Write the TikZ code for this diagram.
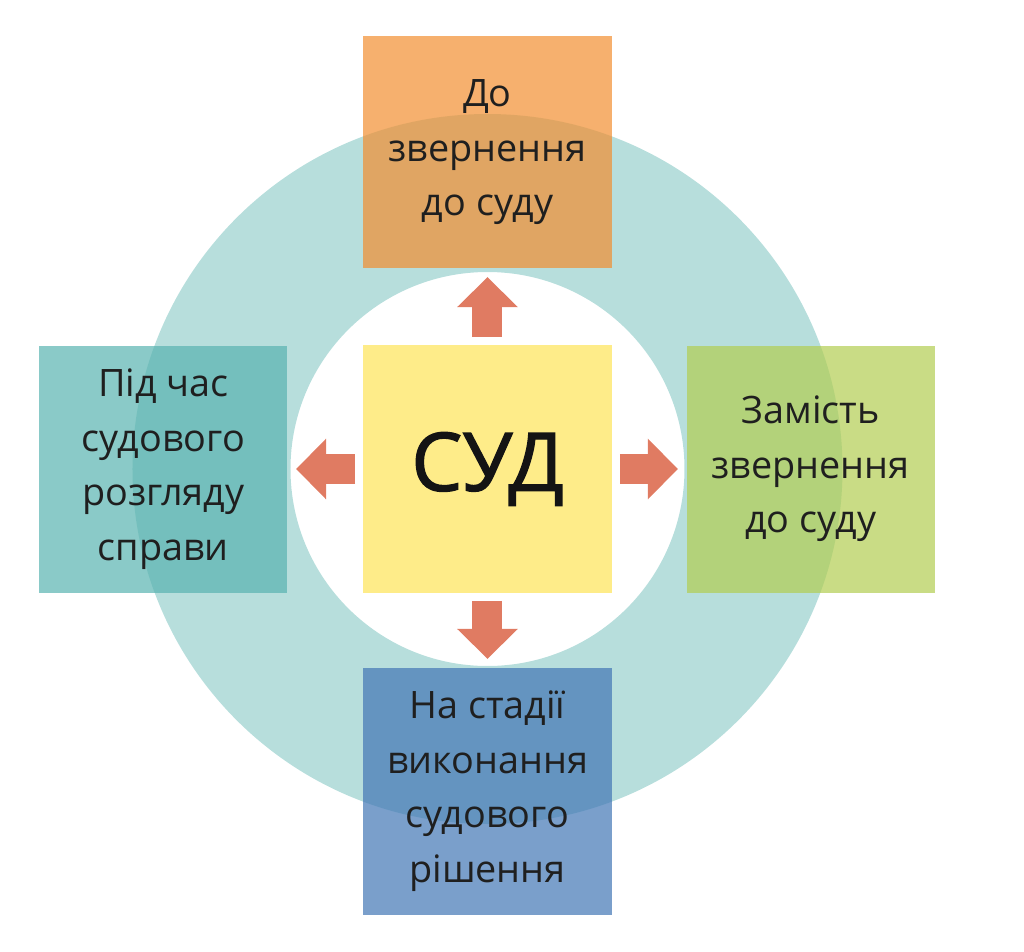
\documentclass[tikz,border=0pt]{standalone}
\usepackage{fontspec}
\setmainfont{Open Sans}
\usetikzlibrary{arrows.meta,positioning,backgrounds}
\definecolor{ringteal}{RGB}{183,222,220}
\definecolor{sudyellow}{RGB}{254,236,137}
\definecolor{arrowred}{RGB}{224,123,98}
\definecolor{beforeorange}{RGB}{242,142,48}
\definecolor{duringteal}{RGB}{88,179,176}
\definecolor{insteadgreen}{RGB}{178,205,81}
\definecolor{afterblue}{RGB}{65,118,181}

\begin{document}
\begin{tikzpicture}[
  font=\fontsize{21.5}{31}\selectfont,
  node distance=1.5cm,
  stage/.style = {align=center, text=black!88, fill opacity=0.7, text opacity=1,
                  minimum width=4.96cm, minimum height=4.94cm, inner sep=0pt},
  core/.style  = {fill=sudyellow, text=black!92, minimum width=4.98cm,
                  minimum height=4.96cm,
                  font=\fontsize{46}{50}\selectfont\addfontfeature{FakeBold=1.6}},
  push/.style  = {-{Triangle[length=0.6cm, width=1.18cm]}, line width=0.6cm,
                  draw=arrowred, shorten <=0.15cm, shorten >=0.17cm}
]
\useasboundingbox (-9.75,-9.66) rectangle (10.73,9.38);

\node[core] (sud) at (0,0) {СУД};

\node[stage, fill=beforeorange, minimum width=4.98cm, minimum height=4.64cm,
      above=1.52cm of sud] (before)
     {До\\звернення\\до суду};
\node[stage, fill=duringteal, left=of sud] (during)
     {Під час\\судового\\розгляду\\справи};
\node[stage, fill=insteadgreen, right=1.48cm of sud] (instead)
     {Замість\\звернення\\до суду};
\node[stage, fill=afterblue, minimum width=4.98cm, below=1.48cm of sud] (after)
     {На стадії\\виконання\\судового\\рішення};

\begin{scope}[on background layer]
  \fill[ringteal, even odd rule] (sud.center) circle (7.1) (sud.center) circle (3.94);
\end{scope}

\draw[push] (sud) -- (before);
\draw[push] (sud) -- (during);
\draw[push] (sud) -- (instead);
\draw[push] (sud) -- (after);

\end{tikzpicture}
\end{document}
